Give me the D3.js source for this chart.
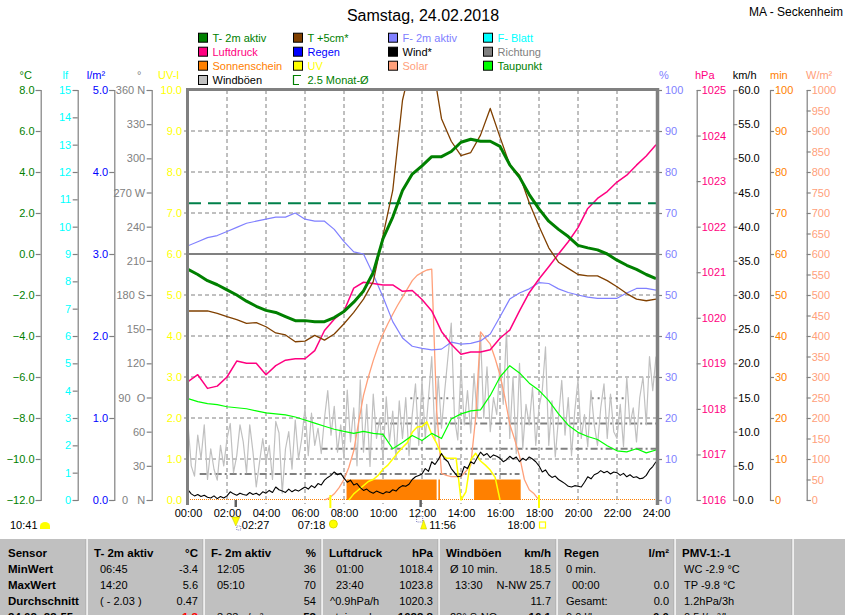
<!DOCTYPE html>
<html><head><meta charset="utf-8">
<script src="https://cdn.jsdelivr.net/npm/d3@7/dist/d3.min.js"></script>
<style>
body{margin:0;background:#fff;}
svg{display:block;font-family:"Liberation Sans",Arial,sans-serif;}
</style></head><body>
<svg id="c" width="845" height="615"></svg>
<script>
// ---------------- DATA ----------------
// 30-minute series (00:00 .. 24:00, 49 values)
const temp2m = [-0.75,-1.0,-1.3,-1.5,-1.75,-2.0,-2.3,-2.55,-2.75,-2.85,-3.05,-3.25,-3.25,-3.3,-3.3,-3.1,-2.8,-2.35,-1.8,-0.9,0.75,1.8,3.1,3.9,4.3,4.75,4.75,5.0,5.45,5.6,5.5,5.5,5.25,4.35,3.75,2.9,2.2,1.6,1.2,0.85,0.42,0.3,0.2,0.0,-0.3,-0.55,-0.75,-1.0,-1.2];
const temp5cm = [-2.78,-2.78,-2.78,-2.9,-3.06,-3.2,-3.38,-3.35,-3.55,-3.85,-3.95,-4.28,-4.25,-3.97,-4.2,-3.9,-3.4,-2.85,-2.2,-1.35,0.9,3.1,7.5,9.5,10.5,9.5,6.6,5.5,4.8,4.95,5.8,7.1,5.7,4.35,3.85,2.5,1.35,0.3,-0.4,-0.7,-1.0,-1.07,-1.07,-1.3,-1.6,-1.93,-2.2,-2.28,-2.2];
const humidity = [62,63,64,64.5,65.5,66.5,67.5,68,68.5,69,69,70,68.5,68,68,66,63,60.5,60,55,49.5,43.5,39.5,37.5,37,36.6,36.8,38.5,38,38.2,38.8,40.5,44.7,49,50.5,51.5,53,52.8,51.5,50.6,50,49.5,49.2,49.2,49.2,50.5,51.6,51.6,51.2];
const pressure = [1018.6,1018.75,1018.45,1018.5,1018.7,1019.05,1019.0,1019.0,1018.75,1018.95,1019.07,1019.1,1019.1,1019.28,1019.72,1019.97,1020.15,1020.65,1020.78,1020.75,1020.72,1020.72,1020.58,1020.6,1020.4,1020.15,1019.7,1019.42,1019.2,1019.25,1019.25,1019.3,1019.55,1019.73,1020.15,1020.55,1020.85,1021.12,1021.4,1021.67,1021.98,1022.4,1022.62,1022.77,1022.98,1023.13,1023.35,1023.55,1023.8];
const dewPoint = [-7.05,-7.2,-7.3,-7.35,-7.45,-7.5,-7.55,-7.65,-7.75,-7.8,-7.85,-7.95,-8.1,-8.25,-8.4,-8.55,-8.65,-8.75,-8.65,-8.75,-8.8,-9.5,-9.2,-8.85,-9.1,-8.75,-9.0,-8.05,-7.8,-7.65,-7.6,-6.9,-6.0,-5.45,-5.8,-6.3,-6.65,-7.15,-7.8,-8.35,-8.7,-8.9,-9.05,-9.35,-9.6,-9.65,-9.5,-9.7,-9.56];
// 10-minute series (145 values, one row per hour)
const wind = [
  1.5,0.9,0.6,0.8,0.5,0.7, 0.4,0.3,0.6,0.2,0.5,0.3, 0.6,1.2,0.9,0.7,1.0,0.8, 0.7,1.1,0.8,1.0,0.7,1.2,
  1.0,1.4,1.1,1.9,1.5,1.3, 1.1,1.6,1.2,1.5,1.3,1.6, 1.9,1.6,2.1,1.8,2.4,2.2, 2.9,3.3,3.6,4.1,3.7,3.9,
  3.2,2.6,2.9,2.2,2.4,1.8, 1.4,1.6,1.2,1.0,1.3,1.1, 0.9,1.2,1.1,1.5,1.3,1.8, 2.1,2.0,2.3,3.0,3.4,3.6,
  3.8,4.6,4.2,5.6,5.2,5.9, 6.8,6.0,5.6,4.6,4.0,3.4, 3.5,4.9,4.6,5.6,5.3,6.2, 7.0,6.5,6.8,6.2,6.6,6.4,
  6.1,5.6,5.9,6.4,6.0,6.3, 5.6,6.1,5.8,6.3,6.0,5.6, 5.0,4.1,4.4,3.7,3.3,3.5, 3.0,2.7,2.4,2.0,1.9,2.1,
  2.0,1.9,2.6,3.4,3.1,3.7, 3.9,4.3,4.0,4.2,3.8,4.1, 4.0,3.6,3.9,3.4,3.7,3.3, 3.4,3.1,3.2,3.6,4.4,4.9, 5.6];
const gusts = [
  11.2,5.0,3.5,9.5,6.0,11.0, 3.0,7.5,4.5,2.9,8.0,5.0, 9.0,11.2,4.0,6.5,11.0,8.5, 4.0,11.0,7.0,1.9,5.5,9.0,
  5.5,8.0,3.0,11.5,9.8,1.0, 7.5,10.0,4.5,11.7,6.0,9.0, 13.5,6.5,12.7,8.0,10.5,6.8, 12.0,16.0,9.5,13.7,7.0,11.0,
  6.0,16.1,8.5,13.5,5.0,17.6, 7.0,14.0,4.9,15.5,9.0,12.0, 6.0,15.1,8.5,13.0,5.9,14.5, 9.0,15.0,6.5,12.5,17.0,8.0,
  17.5,9.0,15.0,21.0,8.8,18.0, 10.5,16.0,21.0,25.9,12.0,8.8, 19.5,11.0,16.0,9.8,18.5,12.0, 24.4,12.0,19.5,10.0,15.0,12.5,
  20.0,14.0,24.9,9.0,18.0,6.8, 20.0,7.5,14.0,11.0,16.5,8.0, 13.5,16.0,22.4,8.0,14.5,6.3, 12.0,17.5,9.5,15.0,6.5,13.0,
  17.6,9.0,12.5,7.8,16.0,11.0, 8.0,13.5,17.0,9.0,15.5,10.0, 9.0,14.0,7.8,18.0,11.0,13.5, 8.5,15.0,18.0,11.0,21.0,16.0, 21.0];
// 15-minute series (97 values)
const solar = [0,0,0,0,0,0,0,0,0,0,0,0,0,0,0,0,0,0,0,0,0,0,0,0,0,0,0,0,0,
  5,15,30,50,80,120,190,255,300,340,375,405,430,453,475,495,515,535,548,555,561,563,220,65,60,57,57,57,70,85,200,410,395,380,345,305,250,185,148,107,50,25,15,0,
  0,0,0,0,0,0,0,0,0,0,0,0,0,0,0,0,0,0,0,0,0,0,0,0];
const uvIndex = [0,0,0,0,0,0,0,0,0,0,0,0,0,0,0,0,0,0,0,0,0,0,0,0,0,0,0,0,0,0,0,0,0,0,
  0.15,0.25,0.35,0.45,0.5,0.6,0.75,0.85,1.0,1.15,1.28,1.4,1.65,1.78,1.79,1.91,1.6,1.38,1.1,1.02,1.02,1.02,0.0,0.2,0.98,1.14,0.95,0.85,0.73,0.55,0.0,
  0,0,0,0,0,0,0,0,0,0,0,0,0,0,0,0,0,0,0,0,0,0,0,0,0,0,0,0,0,0,0,0];
// sunshine periods [start h, end h] with minutes per 5-min slot
const sunStart = [8.13, 12.84, 14.67];
const sunEnd   = [12.75, 12.92, 17.06];
const sunMinutes = [5, 5, 5];
// wind reference levels (km/h) with spans
const refLevel = [3.8, 7.5, 11.2, 14.9, 14.9];
const refFrom  = [0.6, 6.8, 9.6, 11.4, 20.7];
const refTo    = [17.0, 24.0, 24.0, 13.7, 22.5];
const monthAvg = 2.47; // 2.5 Monat-Ø temperature

// axis tick values / labels
const timeTicks = [0,2,4,6,8,10,12,14,16,18,20,22,24];
const tempTicks = [8,6,4,2,0,-2,-4,-6,-8,-10,-12];
const lfTicks = [0,1,2,3,4,5,6,7,8,9,10,11,12,13,14,15];
const rainTicks = [0,1,2,3,4,5];
const dirTicks = [0,30,60,90,120,150,180,210,240,270,300,330,360];
const dirNames = {0:"0\u00a0\u00a0\u00a0N",90:"90\u00a0\u00a0O",180:"180 S",270:"270 W",360:"360 N"};
const uvTicks = [0,1,2,3,4,5,6,7,8,9,10];
const humTicks = [0,10,20,30,40,50,60,70,80,90,100];
const presTicks = [1016,1017,1018,1019,1020,1021,1022,1023,1024,1025];
const kmhTicks = [0,5,10,15,20,25,30,35,40,45,50,55,60];
const minTicks = [0,10,20,30,40,50,60,70,80,90,100];
const wmTicks = [0,50,100,150,200,250,300,350,400,450,500,550,600,650,700,750,800,850,900,950,1000];

const legendLabels = ["T- 2m aktiv","Luftdruck","Sonnenschein","Windböen","T +5cm*","Regen","UV","2.5 Monat-Ø","F- 2m aktiv","Wind*","Solar","F- Blatt","Richtung","Taupunkt"];
const legendSwatch = ["#008000","#FF0080","#FF8000","#C0C0C0","#804000","#0000FF","#FFFF00",null,"#8080FF","#000000","#FFA07A","#00FFFF","#808080","#00FF00"];
const legendText = ["#008000","#FF0080","#FF8000","#000000","#008000","#0000FF","#FFFF00","#008000","#8080FF","#000000","#FFA07A","#00FFFF","#808080","#008000"];

const tblHead = ["Sensor","T- 2m aktiv","F- 2m aktiv","Luftdruck","Windböen","Regen","PMV-1:-1"];
const tblUnit = ["","°C","%","hPa","km/h","l/m²",""];
const tblRows = ["MinWert","MaxWert","Durchschnitt","24.02.-23:55"];
const tblLeft = [
  ["06:45","12:05","01:00","Ø 10 min.","0 min.","WC -2.9 °C"],
  ["14:20","05:10","23:40","13:30","00:00","TP -9.8 °C"],
  ["( - 2.03 )","","^0.9hPa/h","","Gesamt:","1.2hPa/3h"],
  ["","3.33 g/m³","steigend","28° S-NO","0.0 l/h","0.5 l/m²/h"]];
const tblRight = [
  ["-3.4","36","1018.4","18.5","",""],
  ["5.6","70","1023.8","N-NW 25.7","0.0",""],
  ["0.47","54","1020.3","11.7","0.0",""],
  ["-1.3","53","1023.8","16.1","0.0",""]];

// ---------------- LAYOUT ----------------
const X0=188, X1=656, Y0=90, Y1=500;
const FONT='"Liberation Sans",Arial,sans-serif';
const svg=d3.select("#c");
svg.append("rect").attr("width",845).attr("height",615).attr("fill","#fff");

const x=d3.scaleLinear().domain([0,24]).range([X0,X1]);
const yT=d3.scaleLinear().domain([-12,8]).range([Y1,Y0]);
const yLf=d3.scaleLinear().domain([0,15]).range([Y1,Y0]);
const yRain=d3.scaleLinear().domain([0,5]).range([Y1,Y0]);
const yDir=d3.scaleLinear().domain([0,360]).range([Y1,Y0]);
const yUV=d3.scaleLinear().domain([0,10]).range([Y1,Y0]);
const yHum=d3.scaleLinear().domain([0,100]).range([Y1,Y0]);
const yP=d3.scaleLinear().domain([1016,1025]).range([Y1,Y0]);
const yK=d3.scaleLinear().domain([0,60]).range([Y1,Y0]);
const yMin=d3.scaleLinear().domain([0,100]).range([Y1,Y0]);
const yW=d3.scaleLinear().domain([0,1000]).range([Y1,Y0]);

// title
svg.append("text").attr("x",(X0+X1)/2+1).attr("y",21).attr("text-anchor","middle")
  .attr("font-size",16).attr("font-family",FONT).text("Samstag, 24.02.2018");
svg.append("text").attr("x",749).attr("y",16).attr("font-size",12).attr("font-family",FONT).text("MA - Seckenheim");

// legend
const legCols=[198,293,388,483], legRows=[37.7,51.7,65.7,80];
legendLabels.forEach((lab,i)=>{
  const col = i<4?0:i<8?1:i<11?2:3;
  const row = i<4?i:i<8?i-4:i<11?i-8:i-11;
  const lx=legCols[col], ly=legRows[row];
  if(legendSwatch[i]){
    svg.append("rect").attr("x",lx+0.5).attr("y",ly-4.5).attr("width",9).attr("height",9)
      .attr("fill",legendSwatch[i]).attr("stroke","#000").attr("stroke-width",1);
  } else {
    svg.append("path").attr("d",`M${lx+8},${ly-4.5} H${lx+0.5} V${ly+4.5} H${lx+6}`)
      .attr("fill","none").attr("stroke","#008000").attr("stroke-width",1.2);
  }
  svg.append("text").attr("x",lx+14.5).attr("y",ly+4).attr("font-size",11).attr("font-family",FONT)
    .attr("fill",legendText[i]).text(lab);
});

// unit headers
const heads=[["°C",19.6,"#008000"],["lf",62.5,"#00FFFF"],["l/m²",86.8,"#0000FF"],["°",137,"#808080"],["UV-I",158,"#FFFF00"],
  ["%",659,"#8080FF"],["hPa",695,"#FF0080"],["km/h",732.7,"#000"],["min",770,"#FF8000"],["W/m²",806,"#FFA07A"]];
heads.forEach(h=>svg.append("text").attr("x",h[1]).attr("y",79).attr("font-size",11).attr("font-family",FONT).attr("fill",h[2]).text(h[0]));

// axis helper
function styleAxis(g,color){
  g.selectAll("path.domain").attr("stroke","#808080").attr("stroke-width",1.2);
  g.selectAll(".tick line").attr("stroke","#808080").attr("stroke-width",1.2);
  g.selectAll("text").attr("fill",color).attr("font-size",11).attr("font-family",FONT);
}
function leftAxis(xpos,scale,ticks,fmt,color,size,pad){
  const g=svg.append("g").attr("transform",`translate(${xpos},0)`)
    .call(d3.axisLeft(scale).tickValues(ticks).tickFormat(fmt).tickSizeOuter(0).tickSize(size).tickPadding(pad));
  styleAxis(g,color); return g;
}
function rightAxis(xpos,scale,ticks,fmt,color,size,pad){
  const g=svg.append("g").attr("transform",`translate(${xpos},0)`)
    .call(d3.axisRight(scale).tickValues(ticks).tickFormat(fmt).tickSizeOuter(0).tickSize(size).tickPadding(pad));
  styleAxis(g,color); return g;
}
leftAxis(40.7,yT,tempTicks,d3.format(".1f"),"#008000",5,1.2);
leftAxis(77.7,yLf,lfTicks,d3.format("d"),"#00FFFF",5,1.5);
leftAxis(114.3,yRain,rainTicks,d3.format(".1f"),"#0000FF",5,1.2);
leftAxis(151.7,yDir,dirTicks,d=>dirNames[d]||String(d),"#808080",5,1.5);
const uvg=leftAxis(188,yUV,uvTicks,d3.format(".1f"),"#FFFF00",0,6);
uvg.select("path.domain").remove();
const humg=rightAxis(657,yHum,humTicks,d3.format("d"),"#8080FF",5,3);
humg.select("path.domain").remove();
rightAxis(696.7,yP,presTicks,d3.format("d"),"#FF0080",4,1);
rightAxis(733.3,yK,kmhTicks,d3.format(".1f"),"#000000",4,1);
rightAxis(770,yMin,minTicks,d3.format("d"),"#FF8000",4,1);
rightAxis(806.7,yW,wmTicks,d3.format("d"),"#FFA07A",4,1);

// time axis
const tg=svg.append("g").attr("transform",`translate(0,${Y1})`)
  .call(d3.axisBottom(x).tickValues(timeTicks).tickFormat(d=>(d<10?"0":"")+d+":00").tickSize(0).tickPadding(9.5));
tg.select("path.domain").remove();
tg.selectAll("text").attr("fill","#000").attr("font-size",11).attr("font-family",FONT);

// grid
const grid=svg.append("g");
uvTicks.filter(v=>v>0&&v<10).forEach(v=>{
  grid.append("line").attr("x1",184).attr("x2",X1).attr("y1",yUV(v)).attr("y2",yUV(v))
    .attr("stroke","#808080").attr("stroke-width",1).attr("stroke-dasharray","4,3");
});
timeTicks.filter(v=>v>0&&v<24).forEach(v=>{
  grid.append("line").attr("x1",x(v)).attr("x2",x(v)).attr("y1",Y0).attr("y2",Y1+4)
    .attr("stroke","#808080").attr("stroke-width",1).attr("stroke-dasharray","4,3");
});
grid.append("line").attr("x1",X0).attr("x2",X1).attr("y1",yT(0)).attr("y2",yT(0))
  .attr("stroke","#808080").attr("stroke-width",2);

// clip
svg.append("clipPath").attr("id","pc").append("rect").attr("x",X0).attr("y",Y0).attr("width",X1-X0+1).attr("height",Y1-Y0+1);
const plot=svg.append("g").attr("clip-path","url(#pc)");

// sunshine bars
sunStart.forEach((s,i)=>{
  plot.append("rect").attr("x",x(s)).attr("width",x(sunEnd[i])-x(s)).attr("y",yMin(sunMinutes[i]))
    .attr("height",yMin(0)-yMin(sunMinutes[i])).attr("fill","#FF8000");
});
plot.append("line").attr("x1",X0).attr("x2",X1).attr("y1",Y1-0.5).attr("y2",Y1-0.5)
  .attr("stroke","#FF8000").attr("stroke-width",1).attr("stroke-dasharray","1,1");

// wind reference segments
refLevel.forEach((v,i)=>{
  plot.append("line").attr("x1",x(refFrom[i])).attr("x2",x(refTo[i])).attr("y1",yK(v)).attr("y2",yK(v))
    .attr("stroke","#808080").attr("stroke-width",2).attr("stroke-dasharray",i>=3?"2,4":"7,3,2,3");
});

function series(data,step,scale,color,width,skipZero){
  const line=d3.line().x((d,i)=>x(i*step)).y(d=>scale(d));
  if(skipZero) line.defined((d,i,a)=>d>0||(i>0&&a[i-1]>0)||(i<a.length-1&&a[i+1]>0));
  plot.append("path").attr("d",line(data)).attr("fill","none").attr("stroke",color)
    .attr("stroke-width",width).attr("stroke-linejoin","round");
}
series(gusts,1/6,yK,"#C0C0C0",1.2);
series(solar,0.25,yW,"#FFA07A",1.3,true);
series(uvIndex,0.25,yUV,"#FFFF00",1.5,true);
series(dewPoint,0.5,yT,"#00FF00",1.2);
series(humidity,0.5,yHum,"#8080FF",1.2);
series(pressure,0.5,yP,"#FF0080",1.5);
series(wind,1/6,yK,"#000000",1.1);
// month average line
plot.append("line").attr("x1",X0).attr("x2",X1).attr("y1",yT(monthAvg)).attr("y2",yT(monthAvg))
  .attr("stroke","#00804A").attr("stroke-width",2).attr("stroke-dasharray","13,7");
series(temp5cm,0.5,yT,"#804000",1.3);
series(temp2m,0.5,yT,"#008000",3);

// frame
svg.append("line").attr("x1",X0-0.5).attr("x2",X0-0.5).attr("y1",Y0-2).attr("y2",Y1+5).attr("stroke","#808080").attr("stroke-width",3);
svg.append("line").attr("x1",X0-2).attr("x2",X1+3).attr("y1",Y0-0.5).attr("y2",Y0-0.5).attr("stroke","#808080").attr("stroke-width",3);
svg.append("line").attr("x1",X1+1.5).attr("x2",X1+1.5).attr("y1",Y0-2).attr("y2",Y1+5).attr("stroke","#808080").attr("stroke-width",3.5);

// sun / moon markers
const moonT=[2.45,11.93], sunT=[7.3,18.0];
moonT.forEach(t=>svg.append("line").attr("x1",x(t)).attr("x2",x(t)).attr("y1",Y1).attr("y2",Y1+7).attr("stroke","#606060").attr("stroke-width",2.5));
sunT.forEach(t=>svg.append("line").attr("x1",x(t)).attr("x2",x(t)).attr("y1",Y1-5).attr("y2",Y1+8).attr("stroke","#FFFF00").attr("stroke-width",2));
const by=529;
function txt(xp,s,anchor){svg.append("text").attr("x",xp).attr("y",by).attr("font-size",11).attr("font-family",FONT).attr("text-anchor",anchor||"start").text(s);}
txt(10,"10:41");
svg.append("path").attr("d","M40,529 L40,526 A5,4 0 0 1 50,526 L50,529 Z").attr("fill","#FFFF00");
// moonset 02:27
txt(x(2.45)+6,"02:27");
svg.append("path").attr("d",`M${x(2.45)-4},${517} l4,9 l4,-9 Z`).attr("fill","#FFFF00").attr("stroke","#C0C000").attr("stroke-width",0.5);
svg.append("rect").attr("x",x(2.45)+1).attr("y",526).attr("width",4).attr("height",4).attr("fill","none").attr("stroke","#8080C0").attr("stroke-dasharray","1,1");
// sunrise 07:18
txt(x(7.3)-5,"07:18","end");
svg.append("circle").attr("cx",x(7.3)+3).attr("cy",524).attr("r",4).attr("fill","#FFFF00").attr("stroke","#E0E000");
// moonrise 11:56
svg.append("rect").attr("x",x(11.93)-4).attr("y",516).attr("width",6).attr("height",6).attr("fill","none").attr("stroke","#8080C0").attr("stroke-dasharray","1,1");
svg.append("path").attr("d",`M${x(11.93)},${529} l3,-9 l3,9 Z`).attr("fill","#FFFF00").attr("stroke","#C0C000").attr("stroke-width",0.5);
txt(x(11.93)+8.6,"11:56");
// sunset 18:00
txt(x(18)-4,"18:00","end");
svg.append("rect").attr("x",x(18)+0.5).attr("y",522).attr("width",6).attr("height",6).attr("fill","none").attr("stroke","#FFFF00").attr("stroke-width",1.2);

// ---------------- TABLE ----------------
const TT=539;
svg.append("rect").attr("x",0).attr("y",TT).attr("width",845).attr("height",615-TT).attr("fill","#C0C0C0");
const dividers=[87,204,322,439,557,675,793];
dividers.forEach(d=>{
  svg.append("line").attr("x1",d).attr("x2",d).attr("y1",TT).attr("y2",615).attr("stroke","#fff").attr("stroke-width",1.5);
  svg.append("line").attr("x1",d-1.2).attr("x2",d-1.2).attr("y1",TT).attr("y2",615).attr("stroke","#A8A8A8").attr("stroke-width",0.6);
});
const rowY=[556.7,572.5,588.5,604.5,620.5];
function ttext(xp,yp,s,opt){
  const t=svg.append("text").attr("x",xp).attr("y",yp).attr("font-family",FONT)
    .attr("font-size",opt&&opt.bold?11.5:11).attr("font-weight",opt&&opt.bold?"bold":"normal")
    .attr("text-anchor",opt&&opt.end?"end":"start").attr("fill",opt&&opt.color?opt.color:"#000");
  t.text(s);
}
ttext(8,rowY[0],tblHead[0],{bold:true});
tblRows.forEach((r,i)=>ttext(8,rowY[i+1],r,{bold:true}));
const leftOff=[[13,13,14,11,9,9],[13,13,14,16,15,9],[13,13,8,11,9,9],[13,13,8,11,9,9]];
for(let c=1;c<tblHead.length;c++){
  const d=dividers[c-1], nd=dividers[c];
  ttext(d+7,rowY[0],tblHead[c],{bold:true});
  if(tblUnit[c]) ttext(nd-6,rowY[0],tblUnit[c],{bold:true,end:true});
  for(let r=0;r<4;r++){
    const L=tblLeft[r][c-1], R=tblRight[r][c-1];
    if(L) ttext(d+leftOff[r][c-1],rowY[r+1],L);
    if(R) ttext(nd-6,rowY[r+1],R,{end:true,bold:r===3,color:(r===3&&c===1)?"#FF0000":"#000"});
  }
}
</script>
</body></html>
